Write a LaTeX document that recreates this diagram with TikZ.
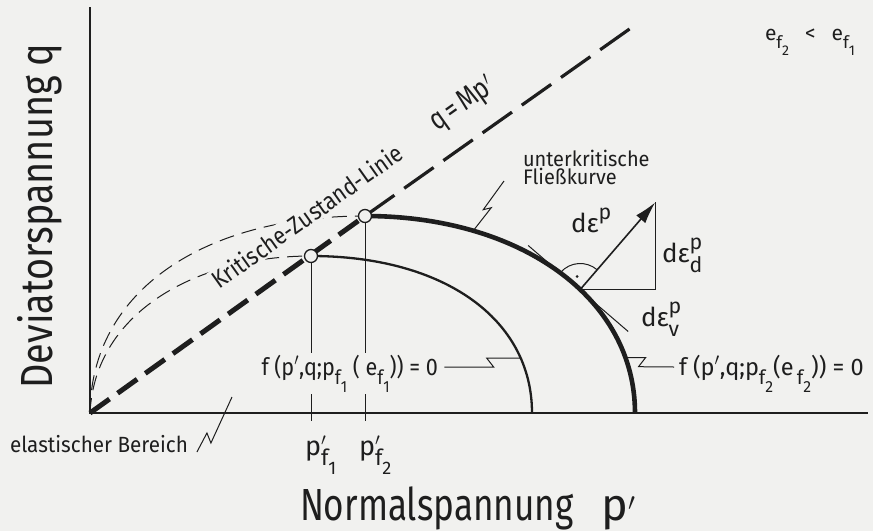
\documentclass[tikz,border=0pt]{standalone}
\usepackage{fontspec}
\setmainfont{Fira Sans}
\usetikzlibrary{arrows.meta,calc}
\definecolor{paper}{RGB}{241,241,239}
\definecolor{ink}{RGB}{30,30,30}
\newcommand\fs[1]{\fontsize{#1}{#1}\selectfont}
\newcommand\lo[1]{\raisebox{-0.4em}{\scalebox{0.82}{#1}}}
\newcommand\up[1]{\raisebox{0.5em}{\scalebox{0.82}{#1}}}
\newcommand\cx[2][0.85]{\scalebox{#1}[1]{#2}}
\newcommand\pr{$'$}
\begin{document}
\begin{tikzpicture}[x=1pt,y=-1pt,
  every node/.style={inner sep=0pt,outer sep=0pt,text=ink},
  axis/.style={draw=ink,line width=1.5pt},
  cslthick/.style={draw=ink,line width=5pt,dash pattern=on 24pt off 10pt},
  cslthin/.style={draw=ink,line width=3.2pt,dash pattern=on 36pt off 12pt},
  pathdash/.style={draw=ink,line width=1pt,dash pattern=on 15pt off 8pt},
  yieldA/.style={draw=ink,line width=2.3pt},
  yieldB/.style={draw=ink,line width=4.6pt},
  fine/.style={draw=ink,line width=1pt},
  leader/.style={draw=ink,line width=1pt,line join=miter},
  ptmark/.style={circle,draw=ink,fill=paper,line width=1.3pt,minimum size=13pt},
  mask/.style={fill=paper,inner sep=1.5pt},
]
\fill[paper] (0,0) rectangle (873,531);
\useasboundingbox (0,0) rectangle (873,531);

% key points
\coordinate (O) at (90,413);
\coordinate (ytop) at (90,7);
\coordinate (xend) at (868,413);
\coordinate (C1) at (311,256);
\coordinate (C2) at (365,216);
\coordinate (Lend) at (638,23);
\coordinate (A1) at (532,413);
\coordinate (A2) at (635,413);
\coordinate (T1) at (311,421);
\coordinate (T2) at (365,421);

% axes
\draw[axis] (ytop) -- (O) -- (xend);

% critical state line
\draw[cslthick] (O) -- (C2);
\draw[cslthin] (C2) -- (Lend);

% stress paths (thin dashed)
\draw[pathdash] (O) .. controls (91,290) and (205,216) .. (C2);
\draw[pathdash] (O) .. controls (95,310) and (200,256) .. (C1);

% yield curves
\draw[yieldA] (C1) .. controls (444,256) and (532,319) .. (A1) coordinate[pos=0.79] (k1);
\draw[yieldB] (C2) .. controls (521.6,216) and (635,298.7) .. (A2)
  coordinate[pos=0.25] (kU) coordinate[pos=0.58] (F) coordinate[pos=0.83] (k2);

% verticals to the axis
\draw[fine] (C1) -- (T1);
\draw[fine] (C2) -- (T2);

% labels
\node[rotate=90,anchor=base,font=\fs{45}] (ylab) at (52,216) {\cx[0.84]{Deviatorspannung q}};
\node[anchor=base west,font=\fs{45}] (xlab) at (300,520) {\cx[0.78]{Normalspannung}\hspace{28pt}p\pr};
\node[rotate=35.4,font=\fs{30}] (qmp) at (463,105) {\cx[0.8]{q\,=\,Mp\pr}};
\node[rotate=35.4,font=\fs{24.5},mask] (ksl) at (307,216) {\cx[0.88]{Kritische-Zustand-Linie}};
\node[anchor=base west,font=\fs{21}] (uk1) at (523,166) {\cx[0.95]{unterkritische}};
\node[anchor=base west,font=\fs{21}] (uk2) at (523,184) {\cx[0.95]{Fließkurve}};
\node[anchor=base west,font=\fs{21}] (ef) at (765,40) {e\lo{f\lo{2}}\hspace{16pt}<\hspace{16pt}e\lo{f\lo{1}}};
\node[anchor=base west,font=\fs{24},mask] (f1lab) at (260,375) {\cx[0.9]{f (p\pr,q;p\lo{f\lo{1}} ( e\lo{f\lo{1}})) = 0}};
\node[anchor=base west,font=\fs{24}] (f2lab) at (679,375) {\cx[0.98]{f (p\pr,q;p\lo{f\lo{2}}(e\lo{\,f\lo{2}})) = 0}};
\node[anchor=base west,font=\fs{22}] (elab) at (10,452) {\cx[0.94]{elastischer Bereich}};
\node[anchor=base west,font=\fs{27}] (pf1) at (305,455) {p\rlap{\pr}\lo{f\lo{1}}};
\node[anchor=base west,font=\fs{27}] (pf2) at (359,455) {p\rlap{\pr}\lo{f\lo{2}}};

% points on the critical state line
\node[ptmark] (c1) at (C1) {};
\node[ptmark] (c2) at (C2) {};

% leaders
\draw[leader] (k1) -- ++(-34,0) -- ++(7,9) -- ($(f1lab.base east)+(5,-8)$);
\draw[leader] (k2) -- ++(20,0) -- ++(-7,9) -- ($(f2lab.base west)+(-5,-8)$);
\coordinate (uE) at (504,181);
\draw[leader] (kU) -- ++(18,-23) -- ++(-8,2) -- (uE);
\coordinate (eB) at (232,397);
\draw[leader] ($(elab.base east)+(9,0)$) -- ++(10,-19) -- ++(4,10) -- (eB);

% strain increment construction
\coordinate (tg1) at ($(F)+(-52,-44)$);
\coordinate (tg2) at ($(F)+(48,42)$);
\coordinate (tip) at ($(F)+(75,-87)$);
\coordinate (corner) at (tip |- F);
\draw[fine] (tg1) -- (tg2);
\draw[draw=ink,line width=1.2pt] (tip) -- (corner) -- (F);
\draw[draw=ink,line width=1.6pt,-{Latex[length=22pt,width=12pt]}] (F) -- (tip);
\draw[fine] ($(F)+(17.06,-19.62)$) arc[start angle=-49,end angle=-139,radius=26];
\fill[ink] ($(F)+(-3,-13)$) circle[radius=1.5];
\node[anchor=base west,font=\fs{26}] (dep) at (571,232) {dε\up{p}};
\node[anchor=base west,font=\fs{26}] (dedp) at (662,262) {dε\rlap{\up{p}}\lo{d}};
\node[anchor=base west,font=\fs{26}] (devp) at (641,326) {dε\rlap{\up{p}}\lo{v}};
\end{tikzpicture}
\end{document}
